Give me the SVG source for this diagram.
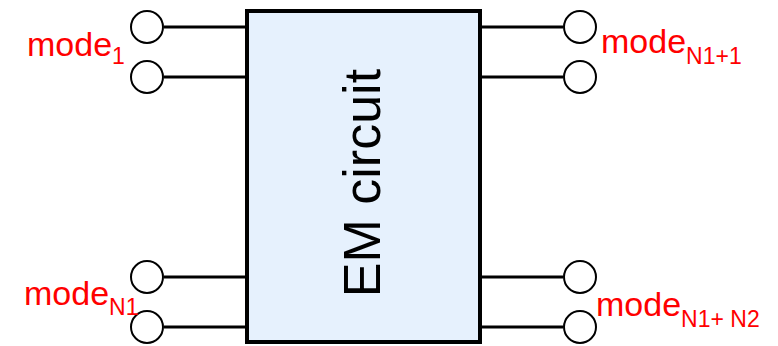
<svg xmlns="http://www.w3.org/2000/svg" width="778" height="346" viewBox="0 0 778 346">
  <style>
    .lead { stroke: #000; stroke-width: 3; fill: none; }
    .port { fill: #fff; stroke: #000; stroke-width: 2; }
    .lbl { font-family: "Liberation Sans", Arial, sans-serif; fill: #ff0000; font-size: 34px; }
    .sub { font-size: 23px; }
    .box { fill: #e6f1fd; stroke: #000; stroke-width: 4; }
    .title { font-family: "Liberation Sans", Arial, sans-serif; font-size: 52px; fill: #000; }
  </style>
  <rect width="778" height="346" fill="#fff"/>

  <!-- leads from the ports to the circuit block -->
  <g id="connectors">
    <line class="lead" x1="164" y1="27" x2="247" y2="27"/>
    <line class="lead" x1="164" y1="77" x2="247" y2="77"/>
    <line class="lead" x1="164" y1="277" x2="247" y2="277"/>
    <line class="lead" x1="164" y1="327" x2="247" y2="327"/>
    <line class="lead" x1="480" y1="27" x2="563" y2="27"/>
    <line class="lead" x1="480" y1="77" x2="563" y2="77"/>
    <line class="lead" x1="480" y1="277" x2="563" y2="277"/>
    <line class="lead" x1="480" y1="327" x2="563" y2="327"/>
  </g>

  <g id="em-circuit">
    <rect class="box" x="247" y="11" width="233" height="331"/>
    <text class="title" text-anchor="middle" transform="translate(380,183) rotate(-90)">EM circuit</text>
  </g>

  <g id="port-mode-1">
    <circle class="port" cx="147" cy="27" r="16"/>
    <circle class="port" cx="147" cy="77" r="16"/>
    <text class="lbl" x="27" y="56">mode<tspan class="sub" dy="8">1</tspan></text>
  </g>

  <g id="port-mode-N1">
    <circle class="port" cx="147" cy="277" r="16"/>
    <circle class="port" cx="147" cy="327" r="16"/>
    <text class="lbl" x="24" y="305">mode<tspan class="sub" dy="10">N1</tspan></text>
  </g>

  <g id="port-mode-N1plus1">
    <circle class="port" cx="580" cy="27" r="16"/>
    <circle class="port" cx="580" cy="77" r="16"/>
    <text class="lbl" x="601" y="53">mode<tspan class="sub" dy="11">N1+1</tspan></text>
  </g>

  <g id="port-mode-N1plusN2">
    <circle class="port" cx="580" cy="277" r="16"/>
    <circle class="port" cx="580" cy="327" r="16"/>
    <text class="lbl" x="596" y="316">mode<tspan class="sub" dy="11">N1+ N2</tspan></text>
  </g>
</svg>
